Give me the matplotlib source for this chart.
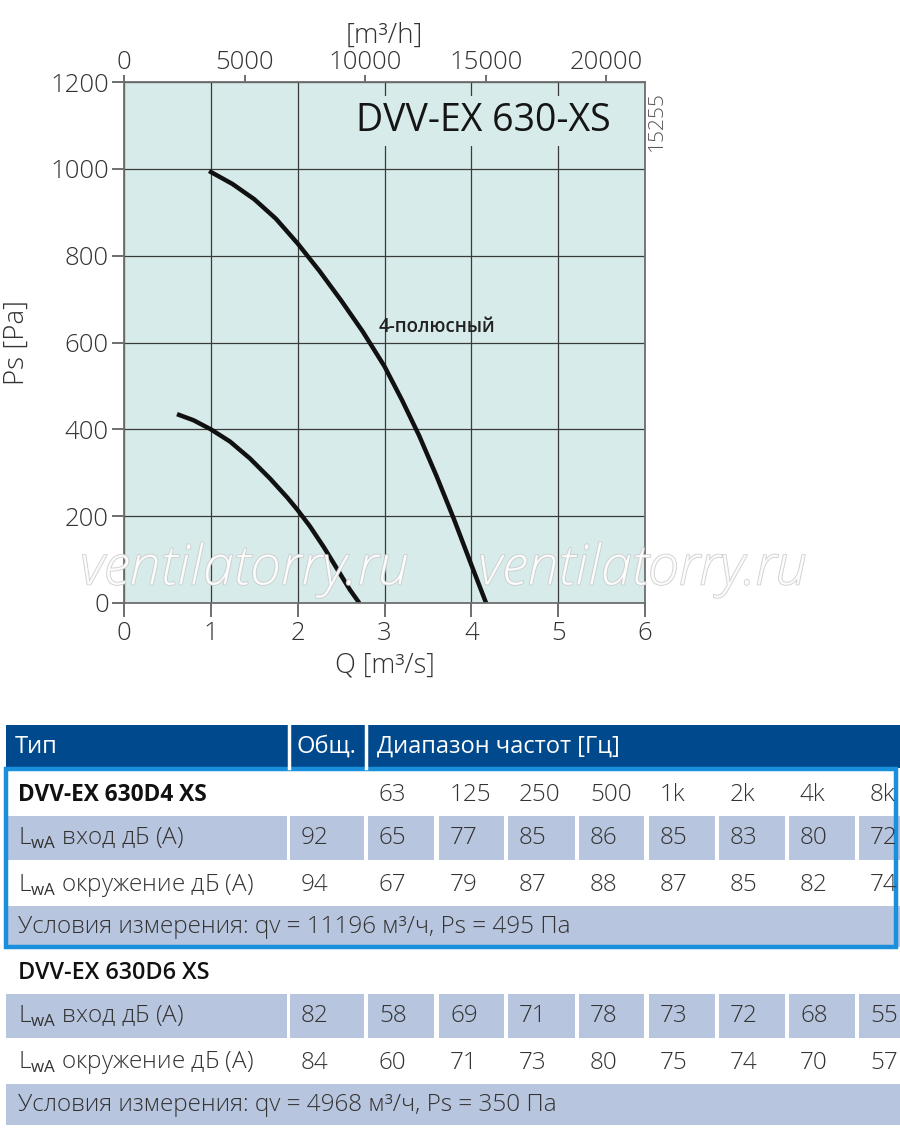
import matplotlib
matplotlib.use("Agg")
import matplotlib.pyplot as plt
import matplotlib.patheffects as pe
from matplotlib import font_manager
from matplotlib.patches import Rectangle

# --- data ---------------------------------------------------------------
q_4pole = [0.98, 1.25, 1.5, 1.75, 2.0, 2.25, 2.5, 2.75, 3.0, 3.2, 3.4, 3.6, 3.8, 4.0, 4.17]
ps_4pole = [995, 965, 930, 885, 828, 765, 697, 625, 545, 468, 385, 292, 193, 88, 0]
q_6pole = [0.61, 0.80, 1.0, 1.22, 1.45, 1.68, 1.88, 2.0, 2.14, 2.30, 2.45, 2.60, 2.71]
ps_6pole = [435, 421, 400, 372, 333, 287, 243, 214, 177, 129, 80, 31, 0]

m3h_ticks = [0, 5000, 10000, 15000, 20000]
q_ticks = [0, 1, 2, 3, 4, 5, 6]
ps_ticks = [0, 200, 400, 600, 800, 1000, 1200]

title = "DVV-EX 630-XS"
curve_label = "4-полюсный"
code_no = "15255"
watermark = "ventilatorry.ru"

header = ["Тип", "Общ.", "Диапазон частот [Гц]"]
freq_labels = ["63", "125", "250", "500", "1k", "2k", "4k", "8k"]
row_labels = ["L$_{\\mathrm{wA}}$ вход дБ (А)", "L$_{\\mathrm{wA}}$ окружение дБ (А)"]

d4_name = "DVV-EX 630D4 XS"
d4_inlet = [92, 65, 77, 85, 86, 85, 83, 80, 72]
d4_surr = [94, 67, 79, 87, 88, 87, 85, 82, 74]
d4_cond = "Условия измерения: qv = 11196 м³/ч, Ps = 495 Па"

d6_name = "DVV-EX 630D6 XS"
d6_inlet = [82, 58, 69, 71, 78, 73, 72, 68, 55]
d6_surr = [84, 60, 71, 73, 80, 75, 74, 70, 57]
d6_cond = "Условия измерения: qv = 4968 м³/ч, Ps = 350 Па"

# --- fonts --------------------------------------------------------------
installed = {f.name for f in font_manager.fontManager.ttflist}
main_font = next(f for f in ["Open Sans", "Noto Sans", "Liberation Sans", "DejaVu Sans"]
                 if f in installed)
plt.rcParams["font.family"] = [main_font, "DejaVu Sans"]
plt.rcParams["mathtext.fontset"] = "custom"
plt.rcParams["mathtext.rm"] = main_font

fig = plt.figure(figsize=(9, 11.38), dpi=100)

# --- chart --------------------------------------------------------------
face = "#d7ecea"
ax = fig.add_axes([124 / 900, 535 / 1138, 521 / 900, 521 / 1138])
ax.set_facecolor(face)
ax.set_xlim(0, 6)
ax.set_ylim(0, 1200)
ax.set_xticks(q_ticks)
ax.set_yticks(ps_ticks)
ax.grid(True, color="#3a3a3a", lw=0.9)
ax.set_axisbelow(True)
for s in ax.spines.values():
    s.set_color("#6e6e6e")
    s.set_linewidth(1.3)
ax.tick_params(axis="x", direction="out", length=10, width=1.2, color="#555",
               labelsize=18.5, labelcolor="#333", pad=3)
ax.tick_params(axis="y", direction="out", length=9, width=1.2, color="#555",
               labelsize=18.5, labelcolor="#333", pad=2)
for lab in ax.get_xticklabels() + ax.get_yticklabels():
    lab.set_fontweight("light")

ax.plot(q_4pole, ps_4pole, color="#111", lw=3.2, solid_capstyle="butt")
ax.plot(q_6pole, ps_6pole, color="#111", lw=3.2, solid_capstyle="butt")

ax.set_xlabel("Q [m³/s]", fontsize=19.5, color="#333", labelpad=4, fontweight="light")
ax.set_ylabel("Ps [Pa]", fontsize=20, color="#333", labelpad=14, fontweight="light")

top = ax.secondary_xaxis("top", functions=(lambda q: q * 3600, lambda h: h / 3600))
top.set_xticks(m3h_ticks)
top.tick_params(direction="out", length=5, width=1.2, color="#555",
                labelsize=18.5, labelcolor="#333", pad=0)
for lab in top.get_xticklabels():
    lab.set_fontweight("light")
top.spines["top"].set_visible(False)
top.set_xlabel("[m³/h]", fontsize=20, color="#333", labelpad=5, fontweight="light")

ax.text(0.935, 0.925, title, transform=ax.transAxes, ha="right", va="center",
        fontsize=27, color="#151515",
        bbox=dict(facecolor=face, edgecolor="none", pad=4))
ax.text(2.93, 636, curve_label, fontsize=13.5, fontweight="semibold", color="#222",
        va="center", ha="left")
ax.text(1.022, 0.925, code_no, transform=ax.transAxes, rotation=90, ha="center",
        va="center", fontsize=15, color="#555", fontweight="light")

# watermark
for xw in [80, 478]:
    t = fig.text(xw / 900, 1 - 570 / 1138, watermark, fontsize=40,
                 style="italic", color="white", alpha=0.85, va="center", ha="left",
                 fontweight="light")
    t.set_path_effects([pe.withStroke(linewidth=1.2, foreground="#c8c8c8")])

# --- table (pixel coordinates) -------------------------------------------
tb = fig.add_axes([0, 0, 1, 1])
tb.set_xlim(0, 900)
tb.set_ylim(1138, 0)
tb.axis("off")
tb.patch.set_alpha(0)

navy = "#00498c"
band = "#b8c5de"
cell_left = [290, 368, 439, 508, 579, 649, 719, 789, 859]
cell_right = [364, 434, 504, 575, 644, 715, 785, 855, 920]
fs = 17.5

tb.add_patch(Rectangle((6, 725), 900, 43, color=navy, lw=0))
tb.plot([289, 289], [725, 768], color="white", lw=2.5)
tb.plot([366, 366], [725, 768], color="white", lw=2.5)
tb.text(15, 747, header[0], color="white", fontsize=17, va="center")
tb.text(297, 747, header[1], color="white", fontsize=17, va="center")
tb.text(377, 747, header[2], color="white", fontsize=17, va="center")


def block(y0, name, inlet, surr, cond, show_freq, bold):
    # name row
    tb.text(18, y0, name, fontsize=16.3 if bold else 16.8, va="center", color="#111",
            fontweight="bold" if bold else "semibold")
    if show_freq:
        for xl, f in zip(cell_left[1:], freq_labels):
            tb.text(xl + 11, y0, f, fontsize=fs, va="center", color="#333",
                    fontweight="light")
    # inlet row with shaded cells
    yr = y0 + 43
    tb.add_patch(Rectangle((6, yr - 22), 281, 44, color=band, lw=0))
    for xl, xr in zip(cell_left, cell_right):
        tb.add_patch(Rectangle((xl, yr - 22), xr - xl, 44, color=band, lw=0))
    tb.text(18, yr, row_labels[0], fontsize=fs, va="center", color="#333",
            fontweight="light")
    for xl, v in zip(cell_left, inlet):
        tb.text(xl + 11, yr, str(v), fontsize=fs, va="center", color="#333",
                fontweight="light")
    # surrounding row
    ys = yr + 47
    tb.text(18, ys, row_labels[1], fontsize=fs, va="center", color="#333",
            fontweight="light")
    for xl, v in zip(cell_left, surr):
        tb.text(xl + 11, ys, str(v), fontsize=fs, va="center", color="#333",
                fontweight="light")
    # conditions row
    yc = ys + 42
    tb.add_patch(Rectangle((6, yc - 21), 900, 41, color=band, lw=0))
    tb.text(18, yc, cond, fontsize=fs, va="center", color="#333", fontweight="light")


block(795, d4_name, d4_inlet, d4_surr, d4_cond, True, True)
block(973, d6_name, d6_inlet, d6_surr, d6_cond, False, False)

tb.add_patch(Rectangle((6, 769), 890, 178, fill=False, edgecolor="#1a8fdb", lw=3.2))

fig.savefig("out.png", dpi=100)
